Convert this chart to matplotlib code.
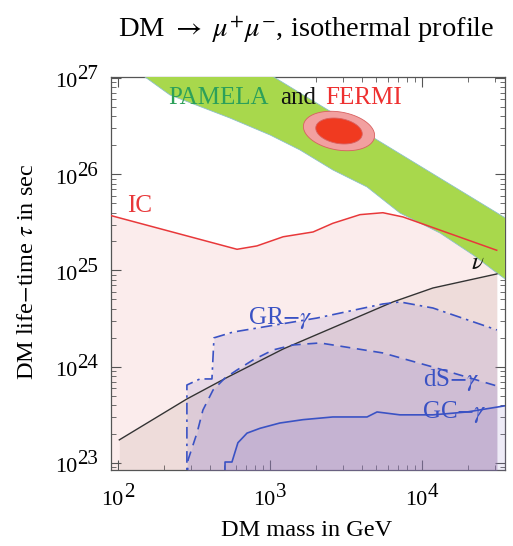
import numpy as np
import matplotlib.pyplot as plt

plt.rcParams['font.family'] = ['Liberation Serif', 'DejaVu Serif']
plt.rcParams['mathtext.fontset'] = 'stix'

# ---- bounds (mass in GeV, lifetime in s) ----
ic_mass = [90, 607, 820, 1220, 1920, 2590, 3910, 5530, 7500, 31000]
ic_tau = 10 ** np.array([25.57, 25.22, 25.255, 25.35, 25.40, 25.49, 25.58, 25.60, 25.556, 25.21])

nu_mass = [102, 284, 530, 1220, 6440, 11800, 31100]
nu_tau = 10 ** np.array([23.24, 23.665, 23.894, 24.184, 24.673, 24.818, 24.964])

gr_mass = [284, 284, 346, 415, 428, 571, 2040, 5530, 7160, 11800, 31100]
gr_tau = 10 ** np.array([22.5, 23.81, 23.873, 23.873, 24.30, 24.36, 24.506, 24.652, 24.673, 24.61, 24.382])

ds_mass = [280, 289, 331, 362, 422, 506, 607, 773, 1047, 1416, 2130, 2590, 5530, 11800, 31100]
ds_tau = 10 ** np.array([22.5, 23.031, 23.312, 23.55, 23.758, 23.883, 23.966, 24.070, 24.174,
                         24.226, 24.247, 24.226, 24.143, 23.997, 23.80])

gc_mass = [506, 506, 562, 615, 706, 859, 1160, 1650, 2590, 4350, 5060, 7160, 11800, 19800, 35500]
gc_tau = 10 ** np.array([22.5, 23.01, 23.01, 23.21, 23.31, 23.36, 23.415, 23.45, 23.478, 23.478,
                         23.53, 23.50, 23.50, 23.53, 23.595])

# PAMELA band edges
pam_up_mass = [738, 44200]
pam_up_tau = 10 ** np.array([27.161, 25.452])
pam_lo_mass = [130, 220, 545, 1000, 1575, 2595, 4345, 7160, 13100, 21700, 31100, 44200]
pam_lo_tau = 10 ** np.array([27.083, 26.823, 26.584, 26.408, 26.252, 26.044, 25.868, 25.597,
                             25.390, 25.161, 24.974, 24.797])

# FERMI fit: centre (log10 m, log10 tau), semi-axes (px), tilt
fermi_centre = (3.454, 26.449)
fermi_outer = (36, 19)
fermi_inner = (23.5, 12.5)
fermi_tilt = -10

x_ticks = [1e2, 1e3, 1e4]
x_exps = ['2', '3', '4']
y_ticks = [1e23, 1e24, 1e25, 1e26, 1e27]
y_exps = ['23', '24', '25', '26', '27']

fig = plt.figure(figsize=(5.13, 5.46), dpi=100)
ax = fig.add_axes([111 / 513, 1 - 470 / 546, 394 / 513, 393 / 546])
ax.set_xscale('log')
ax.set_yscale('log')
ax.set_xlim(10 ** 1.954, 10 ** 4.546)
ax.set_ylim(10 ** 22.927, 10 ** 27.01)

floor = 1e22
ax.fill_between(ic_mass, ic_tau, floor, color='#fbecec', lw=0, zorder=1)
ax.fill_between(nu_mass, nu_tau, floor, color='#b08a80', alpha=0.16, lw=0, zorder=2)
ax.fill_between(gr_mass, gr_tau, floor, color='#8a78c8', alpha=0.16, lw=0, zorder=3)
ax.fill_between(ds_mass, ds_tau, floor, color='#8a78c8', alpha=0.16, lw=0, zorder=3)
ax.fill_between(gc_mass, gc_tau, floor, color='#8a78c8', alpha=0.14, lw=0, zorder=3)

# PAMELA band polygon
band_x = list(pam_up_mass) + list(pam_lo_mass[::-1])
band_y = list(pam_up_tau) + list(pam_lo_tau[::-1])
ax.fill(band_x, band_y, color='#a8d84c', ec='#8cc0c8', lw=0.6, zorder=4)

# FERMI ellipses (drawn in log space, px per decade for aspect)
xdec, ydec = 152.0, 96.25
t = np.linspace(0, 2 * np.pi, 200)
th = np.deg2rad(fermi_tilt)
for (a, b), fc in [(fermi_outer, '#f2a0a0'), (fermi_inner, '#f03a20')]:
    u, v = a * np.cos(t), b * np.sin(t)
    ex = fermi_centre[0] + (u * np.cos(th) - v * np.sin(th)) / xdec
    ey = fermi_centre[1] + (u * np.sin(th) + v * np.cos(th)) / ydec
    ax.fill(10 ** ex, 10 ** ey, color=fc, ec='#d86060', lw=0.6, zorder=5)

blue = '#3a52c4'
ax.plot(ic_mass, ic_tau, color='#e8383a', lw=1.1, zorder=6)
ax.plot(nu_mass, nu_tau, color='#333333', lw=1.0, zorder=6)
ax.plot(gr_mass, gr_tau, color=blue, lw=1.2, ls=(0, (7, 3, 1.5, 3)), zorder=6)
ax.plot(ds_mass, ds_tau, color=blue, lw=1.2, ls=(0, (6, 4)), zorder=6)
ax.plot(gc_mass, gc_tau, color=blue, lw=1.2, zorder=6)

# labels
fs = 18
ax.text(213, 6.2e26, 'PAMELA', color='#2ca05a', fontsize=fs, va='center', zorder=7)
ax.text(1160, 6.2e26, 'and', color='#111111', fontsize=fs, va='center', zorder=7)
ax.text(2300, 6.2e26, 'FERMI', color='#ee3030', fontsize=fs, va='center', zorder=7)
ax.text(115, 4.7e25, 'IC', color='#e8383a', fontsize=fs, va='center', zorder=7)
ax.text(23300, 1.2e25, r'$\nu$', color='#111111', fontsize=fs, ha='center', va='center', zorder=7)
ax.text(716, 3.2e24, r'GR$-\gamma$', color=blue, fontsize=fs, va='center', zorder=7)
ax.text(10200, 7.3e23, r'dS$-\gamma$', color=blue, fontsize=fs, va='center', zorder=7)
ax.text(10000, 3.4e23, r'GC$-\gamma$', color=blue, fontsize=fs, va='center', zorder=7)

# axes styling
for s in ax.spines.values():
    s.set_color('#555555')
    s.set_linewidth(0.9)
ax.tick_params(which='both', direction='in', top=True, right=True, colors='#555555',
               labelbottom=False, labelleft=False)
ax.tick_params(which='major', length=7, width=0.8)
ax.tick_params(which='minor', length=3.5, width=0.6)
ax.set_xticks(x_ticks)
ax.set_yticks(y_ticks)

# tick labels written as "10" with a full-size raised exponent
for v, e in zip(x_ticks, x_exps):
    ax.annotate('10', xy=(v, 0), xycoords=('data', 'axes fraction'), xytext=(5, -35),
                textcoords='offset pixels', ha='right', va='baseline', fontsize=16)
    ax.annotate(e, xy=(v, 0), xycoords=('data', 'axes fraction'), xytext=(6, -27),
                textcoords='offset pixels', ha='left', va='baseline', fontsize=15)
for v, e in zip(y_ticks, y_exps):
    ax.annotate('10', xy=(0, v), xycoords=('axes fraction', 'data'), xytext=(-34, -5),
                textcoords='offset pixels', ha='right', va='center', fontsize=16)
    ax.annotate(e, xy=(0, v), xycoords=('axes fraction', 'data'), xytext=(-34, 3),
                textcoords='offset pixels', ha='left', va='center', fontsize=15)

fig.text(307 / 513, 1 - 530 / 546, 'DM mass in GeV', fontsize=17.5, ha='center', va='center')
fig.text(28 / 513, 1 - 272 / 546, r'DM life$-$time $\tau$ in sec', fontsize=17.5,
         rotation=90, ha='center', va='center')
fig.text(306 / 513, 1 - 30 / 546, r'DM $\rightarrow$ $\mu^{+}\mu^{-}$, isothermal profile',
         fontsize=20.5, ha='center', va='center')

fig.savefig('out.png', dpi=100)
